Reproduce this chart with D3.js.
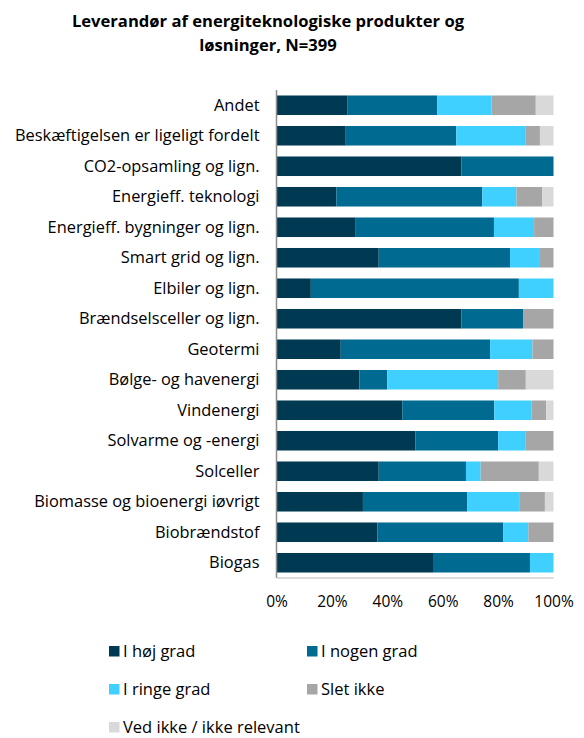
<!DOCTYPE html>
<html>
<head>
<meta charset="utf-8">
<script src="https://cdn.jsdelivr.net/npm/d3@7"></script>
<style>
	body { margin: 0; background: #fff; }
	svg text { font-family: "Open Sans", "Noto Sans", sans-serif; fill: #000; }
</style>
</head>
<body>
<div id="chart"></div>
<script>
"use strict";

// Size of SVG
const w = 584;
const h = 738;

// Categories, top to bottom
const categories = [
	"Andet",
	"Beskæftigelsen er ligeligt fordelt",
	"CO2-opsamling og lign.",
	"Energieff. teknologi",
	"Energieff. bygninger og lign.",
	"Smart grid og lign.",
	"Elbiler og lign.",
	"Brændselsceller og lign.",
	"Geotermi",
	"Bølge- og havenergi",
	"Vindenergi",
	"Solvarme og -energi",
	"Solceller",
	"Biomasse og bioenergi iøvrigt",
	"Biobrændstof",
	"Biogas"
];

const seriesNames = ["I høj grad", "I nogen grad", "I ringe grad", "Slet ikke", "Ved ikke / ikke relevant"];

// Shares in percent, one array per series (same order as categories)
const hoejGrad   = [25.7, 25.0, 66.7, 21.6, 28.6, 36.9, 12.4, 66.7, 23.2, 30.0, 45.4, 50.2, 36.9, 31.2, 36.4, 56.5];
const nogenGrad  = [32.3, 39.9, 33.3, 52.7, 49.9, 47.4, 75.1, 22.3, 53.9, 10.0, 33.2, 29.8, 31.5, 37.6, 45.4, 35.0];
const ringeGrad  = [19.6, 25.1,  0.0, 12.3, 14.5, 10.5, 12.5,  0.0, 15.3, 40.1, 13.5, 10.0,  5.3, 18.8,  9.1,  8.5];
const sletIkke   = [16.0,  5.1,  0.0,  9.4,  7.0,  5.2,  0.0, 11.0,  7.6, 10.0,  5.3, 10.0, 21.0,  9.3,  9.1,  0.0];
const vedIkke    = [ 6.4,  4.9,  0.0,  4.0,  0.0,  0.0,  0.0,  0.0,  0.0, 10.0,  2.6,  0.0,  5.3,  3.1,  0.0,  0.0];

const xTicks = [0, 20, 40, 60, 80, 100];
const colors = ["#003a52", "#006a90", "#40d0ff", "#a6a6a6", "#d9d9d9"];

// Build table for d3.stack
const table = categories.map((c, i) => {
	const row = { cat: c };
	row[seriesNames[0]] = hoejGrad[i];
	row[seriesNames[1]] = nogenGrad[i];
	row[seriesNames[2]] = ringeGrad[i];
	row[seriesNames[3]] = sletIkke[i];
	row[seriesNames[4]] = vedIkke[i];
	return row;
});

const stacked = d3.stack()
	.keys(seriesNames)
	.offset(d3.stackOffsetExpand)(table);

const margin = { top: 90, left: 276.5, right: 30, bottom: 160 };
const plotW = 277;
const plotH = 488;

const svg = d3.select("#chart")
	.append("svg")
	.attr("width", w)
	.attr("height", h);

// Title
svg.append("text")
	.attr("x", 268)
	.attr("y", 27)
	.attr("text-anchor", "middle")
	.style("font-size", "16.6px")
	.style("font-weight", "bold")
	.text("Leverandør af energiteknologiske produkter og");
svg.append("text")
	.attr("x", 268)
	.attr("y", 51)
	.attr("text-anchor", "middle")
	.style("font-size", "16.6px")
	.style("font-weight", "bold")
	.text("løsninger, N=399");

const x = d3.scaleLinear()
	.domain([0, 1])
	.range([margin.left, margin.left + plotW]);

const y = d3.scaleBand()
	.domain(categories)
	.range([margin.top, margin.top + plotH])
	.paddingInner(0.36)
	.paddingOuter(0.18);

// Bars
svg.append("g")
	.selectAll("g")
	.data(stacked)
	.enter()
	.append("g")
	.attr("fill", (d, i) => colors[i])
	.selectAll("rect")
	.data(d => d)
	.enter()
	.append("rect")
	.attr("x", d => x(d[0]))
	.attr("y", d => y(d.data.cat))
	.attr("width", d => x(d[1]) - x(d[0]))
	.attr("height", y.bandwidth());

// Left axis line
svg.append("line")
	.attr("x1", margin.left).attr("x2", margin.left)
	.attr("y1", margin.top).attr("y2", margin.top + plotH)
	.attr("stroke", "#8c8c8c")
	.attr("stroke-width", 1.5);

// Bottom line
svg.append("line")
	.attr("x1", margin.left).attr("x2", margin.left + plotW)
	.attr("y1", margin.top + plotH).attr("y2", margin.top + plotH)
	.attr("stroke", "#d0d0d0")
	.attr("stroke-width", 1.5);

// Category labels
const yAxis = svg.append("g")
	.attr("transform", "translate(" + margin.left + ",0)")
	.call(d3.axisLeft(y).tickSize(0).tickPadding(17));
yAxis.select(".domain").remove();
yAxis.selectAll("text")
	.style("font-size", "16.4px")
	.style("font-family", "'Open Sans', sans-serif");

// X tick labels
const xAxis = svg.append("g")
	.attr("transform", "translate(0," + (margin.top + plotH) + ")")
	.call(d3.axisBottom(x)
		.tickValues(xTicks.map(t => t / 100))
		.tickFormat(d3.format(".0%"))
		.tickSize(0)
		.tickPadding(18));
xAxis.select(".domain").remove();
xAxis.selectAll("text")
	.style("font-size", "15.5px")
	.style("font-family", "'Open Sans', sans-serif");

// Legend
const legendPos = [[109, 651], [307, 651], [109, 689], [307, 689], [109, 727]];
const legend = svg.append("g")
	.selectAll("g")
	.data(seriesNames)
	.enter()
	.append("g")
	.attr("transform", (d, i) => "translate(" + legendPos[i][0] + "," + legendPos[i][1] + ")");
legend.append("rect")
	.attr("x", 0)
	.attr("y", -5)
	.attr("width", 10.5)
	.attr("height", 10.5)
	.attr("fill", (d, i) => colors[i]);
legend.append("text")
	.attr("x", 14)
	.attr("y", 6)
	.style("font-size", "16.5px")
	.text(d => d);
</script>
</body>
</html>
